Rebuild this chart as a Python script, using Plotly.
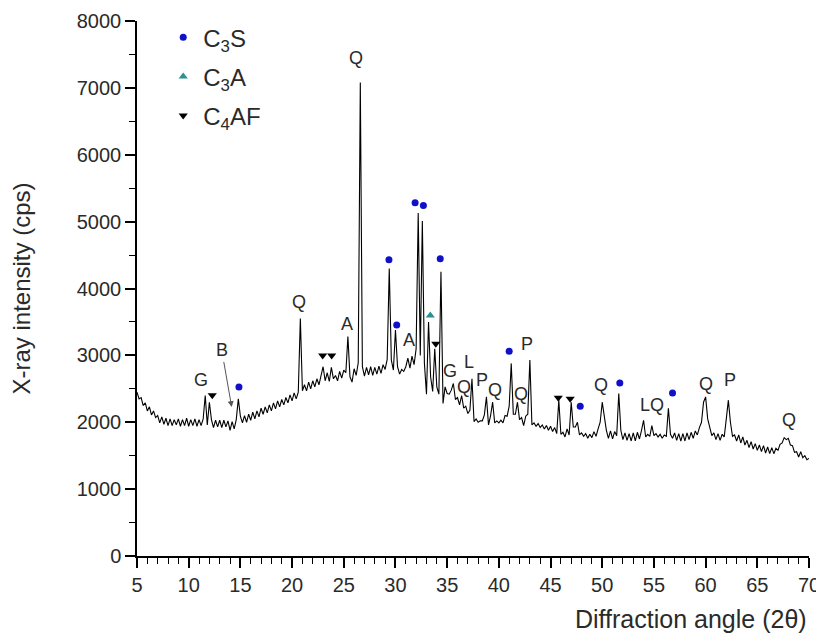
import numpy as np
import plotly.graph_objects as go

# ---------------- data ----------------
theta_start, theta_stop = 5.0, 70.0
intensity = [
    # 5.0-6.8
    2450, 2350, 2370, 2250, 2290, 2170, 2230, 2110, 2170, 2070,
    # 7.0-8.8
    2100, 1990, 2080, 1970, 2060, 1950, 2050, 1950, 2040, 1960,
    # 9.0-10.8
    2050, 1940, 2040, 1950, 2060, 1940, 2040, 1950, 2050, 1940,
    # 11.0-12.8
    2040, 1950, 2050, 2400, 1960, 2300, 2040, 1920, 2030, 1930,
    # 13.0-14.8
    2030, 1920, 2030, 1930, 2020, 1880, 2010, 1900, 2040, 2350,
    # 15.0-16.8
    2090, 1990, 2100, 2000, 2120, 2030, 2150, 2050, 2170, 2080,
    # 17.0-18.8
    2210, 2120, 2230, 2140, 2260, 2170, 2290, 2200, 2320, 2230,
    # 19.0-20.8
    2340, 2260, 2370, 2290, 2410, 2320, 2440, 2350, 2450, 3550,
    # 21.0-22.8
    2470, 2560, 2470, 2600, 2500, 2620, 2530, 2650, 2560, 2680,
    # 23.0-24.8
    2830, 2620, 2740, 2610, 2820, 2650, 2700, 2620, 2760, 2660,
    # 25.0-26.8
    2780, 2740, 3280, 2680, 2600, 2800, 2700, 2890, 7080, 2830,
    # 27.0-28.8
    2690, 2820, 2710, 2830, 2700, 2820, 2720, 2840, 2730, 2860,
    # 29.0-30.8
    2790, 2940, 4300, 2930, 2780, 3380, 2830, 2720, 2790, 2760,
    # 31.0-32.8
    2830, 2960, 2810, 2990, 2860, 3100, 5130, 3000, 5010, 2880,
    # 33.0-34.8
    2420, 3500, 2680, 2460, 3100, 2530, 2420, 4250, 2280, 2530,
    # 35.0-36.8
    2430, 2420, 2480, 2580, 2340, 2370, 2260, 2400, 2210, 2240,
    # 37.0-38.8
    2130, 2180, 2650, 2010, 2050, 2000, 2020, 2020, 2110, 2380,
    # 39.0-40.8
    1960, 2100, 2300, 1990, 2020, 1990, 2030, 1990, 2100, 2090,
    # 41.0-42.8
    2240, 2880, 2120, 2120, 2300, 2040, 2070, 1950, 2090, 2120,
    # 43.0-44.8
    2930, 1960, 1990, 1940, 1980, 1920, 1960, 1900, 1950, 1880,
    # 45.0-46.8
    1940, 1860, 1920, 1830, 2330, 1820, 1850, 1780, 1900, 1810,
    # 47.0-48.8
    2300, 1930, 1930, 2000, 1810, 1840, 1790, 1830, 1760, 1820,
    # 49.0-50.8
    1770, 1860, 1790, 1900, 2000, 2300, 2050, 1880, 1760, 1870,
    # 51.0-52.8
    1750, 1860, 1800, 2430, 1880, 1740, 1840, 1730, 1830, 1720,
    # 53.0-54.8
    1840, 1720, 1850, 1750, 1880, 2030, 1780, 1820, 1790, 1950,
    # 55.0-56.8
    1800, 1830, 1780, 1820, 1760, 1810, 1790, 2210, 1820, 1760,
    # 57.0-58.8
    1840, 1730, 1830, 1720, 1830, 1720, 1840, 1740, 1850, 1760,
    # 59.0-60.8
    1870, 1810, 1920, 2000, 2300, 2380, 2050, 1900, 1800, 1840,
    # 61.0-62.8
    1740, 1830, 1730, 1820, 1780, 2050, 2330, 2000, 1790, 1810,
    # 63.0-64.8
    1720, 1810, 1690, 1780, 1660, 1730, 1620, 1710, 1600, 1680,
    # 65.0-66.8
    1580, 1660, 1560, 1650, 1540, 1630, 1530, 1620, 1530, 1610,
    # 67.0-68.8
    1580, 1670, 1690, 1770, 1740, 1760, 1660, 1650, 1550, 1560,
    # 69.0-70.0
    1480, 1560, 1470, 1500, 1440, 1460,
]
# sampling grid of the scan: 0.2 degree steps from 5 to 70
two_theta = np.round(np.linspace(theta_start, theta_stop, len(intensity)), 2)

# phase markers (position of the symbol above each peak)
c3s_x = [14.86, 29.37, 30.12, 31.9, 32.7, 34.33, 41.0, 47.87, 51.7, 56.8]
c3s_y = [2527, 4430, 3455, 5282, 5242, 4445, 3060, 2238, 2586, 2436]
c3a_x = [33.37]
c3a_y = [3598]
c4af_x = [12.28, 22.96, 23.83, 33.9, 45.75, 46.9]
c4af_y = [2402, 3000, 3000, 3175, 2368, 2353]

# peak letter labels
label_text = ["G", "Q", "A", "Q", "A", "G", "Q", "L", "P", "Q", "Q", "P",
              "Q", "LQ", "Q", "P", "Q"]
label_x = [11.15, 20.67, 25.28, 26.2, 31.33, 35.3, 36.6, 37.1, 38.35, 39.65,
           42.1, 42.7, 49.85, 54.8, 60.0, 62.4, 68.05]
label_y = [2626, 3797, 3474, 7450, 3224, 2766, 2527, 2900, 2627, 2477,
           2427, 3175, 2552, 2253, 2577, 2626, 2028]

# "B" label with arrow
b_text_x, b_text_y = 13.2, 3075
b_tip_x, b_tip_y = 14.16, 2227

x_ticks = [5, 10, 15, 20, 25, 30, 35, 40, 45, 50, 55, 60, 65, 70]
y_ticks = [0, 1000, 2000, 3000, 4000, 5000, 6000, 7000, 8000]

FONT = "Liberation Sans, Arial, sans-serif"
TXT = "#2a2a2a"

fig = go.Figure()
fig.add_trace(go.Scatter(x=two_theta, y=intensity, mode="lines",
                         line=dict(color="black", width=1.1),
                         showlegend=False, hoverinfo="x+y"))
fig.add_trace(go.Scatter(x=c3s_x, y=c3s_y, mode="markers",
                         name="C<sub>3</sub>S", legendgroup="g1",
                         marker=dict(symbol="circle", size=7, color="#1010c8")))
fig.add_trace(go.Scatter(x=c3a_x, y=c3a_y, mode="markers",
                         name="C<sub>3</sub>A", legendgroup="g2",
                         marker=dict(symbol="triangle-up", size=8, color="#2f8f8f")))
fig.add_trace(go.Scatter(x=c4af_x, y=c4af_y, mode="markers",
                         name="C<sub>4</sub>AF", legendgroup="g3",
                         marker=dict(symbol="triangle-down", size=8, color="black")))

for t, x, y in zip(label_text, label_x, label_y):
    fig.add_annotation(x=x, y=y, text=t, showarrow=False,
                       font=dict(family=FONT, size=18, color=TXT))

fig.add_annotation(x=b_tip_x, y=b_tip_y, ax=b_text_x, ay=b_text_y,
                   axref="x", ayref="y", text="B", showarrow=True,
                   arrowhead=2, arrowsize=1.2, arrowwidth=1, arrowcolor="#555555",
                   font=dict(family=FONT, size=18, color=TXT))

# x-axis title (right aligned as in the reference)
fig.add_annotation(xref="paper", yref="paper", x=1.0, y=-0.118,
                   xanchor="right", yanchor="middle", showarrow=False,
                   text="Diffraction angle (2θ)",
                   font=dict(family=FONT, size=25, color=TXT))

fig.update_layout(
    width=816, height=627,
    margin=dict(l=129, r=15, t=13, b=79, autoexpand=False),
    paper_bgcolor="white", plot_bgcolor="white",
    font=dict(family=FONT, size=20, color=TXT),
    legend=dict(x=0.039, y=1.011, xanchor="left", yanchor="top",
                bgcolor="rgba(0,0,0,0)", borderwidth=0, tracegroupgap=5,
                font=dict(family=FONT, size=24, color=TXT),
                itemsizing="trace"),
    xaxis=dict(range=[5, 70], tickvals=x_ticks, ticks="outside", ticklen=10,
               tickwidth=1.5, tickcolor="black", showline=True,
               linecolor="black", linewidth=1.5, showgrid=False, zeroline=False,
               tickfont=dict(size=20), automargin=False,
               minor=dict(dtick=1, tick0=5, ticks="outside", ticklen=6,
                          tickwidth=1.2, tickcolor="black", showgrid=False)),
    yaxis=dict(range=[0, 8000], tickvals=y_ticks, ticks="outside", ticklen=10,
               tickwidth=1.5, tickcolor="black", showline=True,
               linecolor="black", linewidth=1.5, showgrid=False, zeroline=False,
               tickfont=dict(size=20), automargin=False,
               title=dict(text="X-ray intensity (cps)",
                          font=dict(family=FONT, size=24, color=TXT),
                          standoff=41),
               minor=dict(dtick=500, tick0=0, ticks="outside", ticklen=6,
                          tickwidth=1.2, tickcolor="black", showgrid=False)),
)

fig.write_html("out.html")
